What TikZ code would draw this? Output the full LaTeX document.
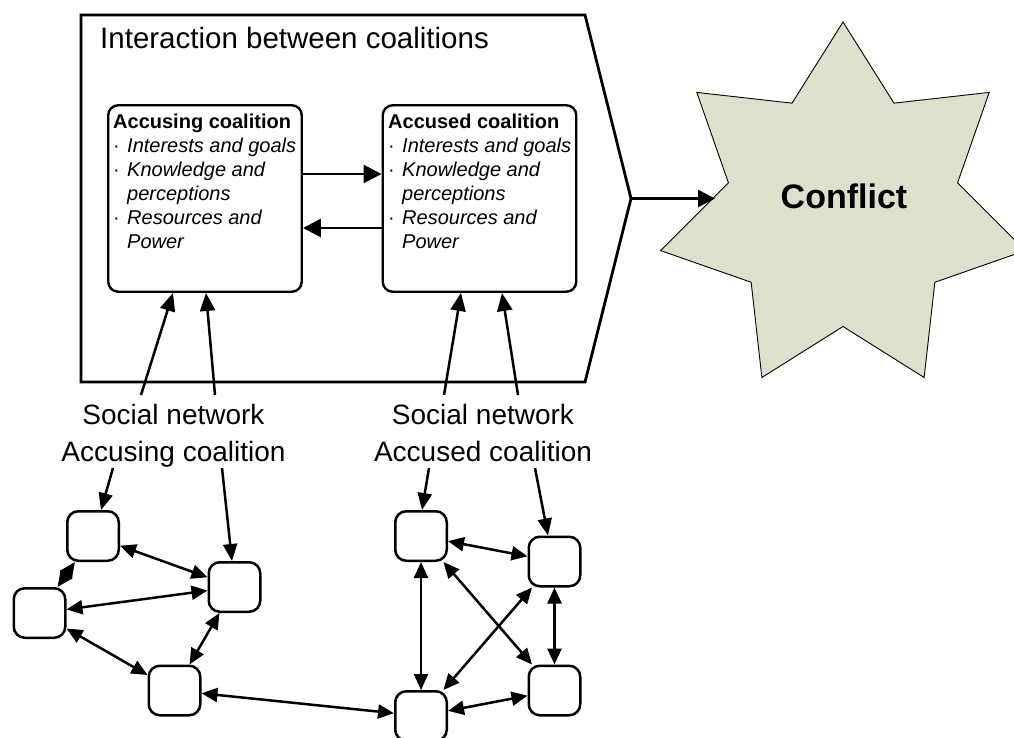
\documentclass[tikz,border=0pt]{standalone}
\usepackage{fontspec}
\setmainfont{Liberation Sans}
\usetikzlibrary{arrows.meta,calc}
\definecolor{starfill}{RGB}{221,225,204}
\newcommand\cbul{\makebox[14pt][l]{·}}
\newcommand\cind{\hspace*{14pt}}
\tikzset{
 cbox/.style={draw, line width=2.4pt, rounded corners=10pt, minimum width=193.5pt, minimum height=186.5pt, inner sep=0pt},
 nbox/.style={draw, line width=2.5pt, rounded corners=11pt, minimum width=51.5pt, minimum height=49.5pt, inner sep=0pt},
 netarr/.style={line width=2.5pt, {Triangle[length=16pt,width=14pt]}-{Triangle[length=16pt,width=14pt]}},
 onearr/.style={line width=2.5pt, -{Triangle[length=17pt,width=14pt]}},
 boxarr/.style={line width=2.7pt, -{Triangle[length=18pt,width=18pt]}},
 uparr/.style={line width=2.5pt, -{Triangle[length=18pt,width=15pt]}},
 boxtxt/.style={anchor=north west, inner sep=0pt, align=left, font=\fontsize{20pt}{24pt}\selectfont},
 bigtxt/.style={font=\fontsize{28pt}{37pt}\selectfont, align=center, inner sep=0pt},
}
\begin{document}
\begin{tikzpicture}[x=1pt,y=-1pt]
\useasboundingbox (0,0) rectangle (1014,737);
\clip (0,0) rectangle (1014,737);

% outer pentagon
\draw[line width=2.8pt] (81,15) -- (585,15) -- (631,198.5) coordinate (ptip) -- (585,382) -- (81,382) -- cycle;
\node[anchor=base west, inner sep=0pt, font=\fontsize{29.5pt}{35pt}\selectfont] (title) at (100,48) {Interaction between coalitions};

% coalition boxes
\node[cbox] (acc) at (205,198.5) {};
\node[cbox] (acd) at (479.5,198.5) {};
\node[boxtxt] (acct) at (113,113.5) {\textbf{Accusing coalition}\\\cbul\textit{Interests and goals}\\\cbul\textit{Knowledge and}\\\cind\textit{perceptions}\\\cbul\textit{Resources and}\\\cind\textit{Power}};
\node[boxtxt] (acdt) at (388,113.5) {\textbf{Accused coalition}\\\cbul\textit{Interests and goals}\\\cbul\textit{Knowledge and}\\\cind\textit{perceptions}\\\cbul\textit{Resources and}\\\cind\textit{Power}};
\draw[boxarr] ([yshift=24.5pt]acc.east) -- ([yshift=24.5pt]acd.west);
\draw[boxarr] ([yshift=-29.5pt]acd.west) -- ([yshift=-29.5pt]acc.east);

% star
\coordinate (sc) at (843,209);
\draw[fill=starfill, line width=0.9pt, line join=miter] ($(sc)+(-90:187)$) \foreach \k in {0,...,6}{ -- ($(sc)+({-90+180/7+\k*360/7}:117.5)$) -- ($(sc)+({-90+(\k+1)*360/7}:187)$) } -- cycle;
\node[inner sep=0pt, font=\fontsize{34pt}{40pt}\selectfont\bfseries] (conf) at (844,196.6) {Conflict};
\coordinate (sL) at (715,198.5);
\draw[line width=2.7pt, -{Triangle[length=17pt,width=17pt]}] (ptip) -- (sL);

% labels
\node[bigtxt, anchor=north] (labA) at (173.5,403.6) {Social network\\Accusing coalition};
\node[bigtxt, anchor=north] (labB) at (483,403.6) {Social network\\Accused coalition};

% arrows up into boxes
\coordinate (a1) at (141,395);
\coordinate (a2) at (215,395);
\coordinate (a3) at (444,395);
\coordinate (a4) at (518,395);
\draw[uparr] (a1) -- ([xshift=-32pt]acc.south);
\draw[uparr] (a2) -- ([xshift=1pt]acc.south);
\draw[uparr] (a3) -- ([xshift=-18.5pt]acd.south);
\draw[uparr] (a4) -- ([xshift=22.5pt]acd.south);

% network nodes
\node[nbox] (L1) at (93,536) {};
\node[nbox] (L2) at (39.5,613) {};
\node[nbox] (L3) at (234.5,587) {};
\node[nbox] (L4) at (174.5,690.5) {};
\node[nbox] (R1) at (421,536) {};
\node[nbox] (R2) at (554.5,561.5) {};
\node[nbox] (R3) at (554.5,690.5) {};
\node[nbox] (R4) at (421,716) {};

% arrows down from labels
\coordinate (d1) at (113,468);
\coordinate (d2) at (222,468);
\coordinate (d3) at (429,468);
\coordinate (d4) at (535,468);
\draw[onearr] (d1) -- ([xshift=8pt]L1.north);
\draw[onearr] (d2) -- ([xshift=-2.5pt]L3.north);
\draw[onearr] (d3) -- ([xshift=1pt]R1.north);
\draw[onearr] (d4) -- ([xshift=-6.5pt]R2.north);

% network edges
\draw[netarr] (L1) -- (L2);
\draw[netarr] (L1) -- (L3);
\draw[netarr] (L2) -- (L3);
\draw[netarr] (L2) -- (L4);
\draw[netarr] (L3) -- (L4);
\draw[netarr] (L4) -- (R4);
\draw[netarr] (R1) -- (R2);
\draw[netarr] (R1) -- (R4);
\draw[netarr] (R1) -- (R3);
\draw[netarr] (R2) -- (R4);
\draw[netarr] (R2) -- (R3);
\draw[netarr] (R3) -- (R4);
\end{tikzpicture}
\end{document}
